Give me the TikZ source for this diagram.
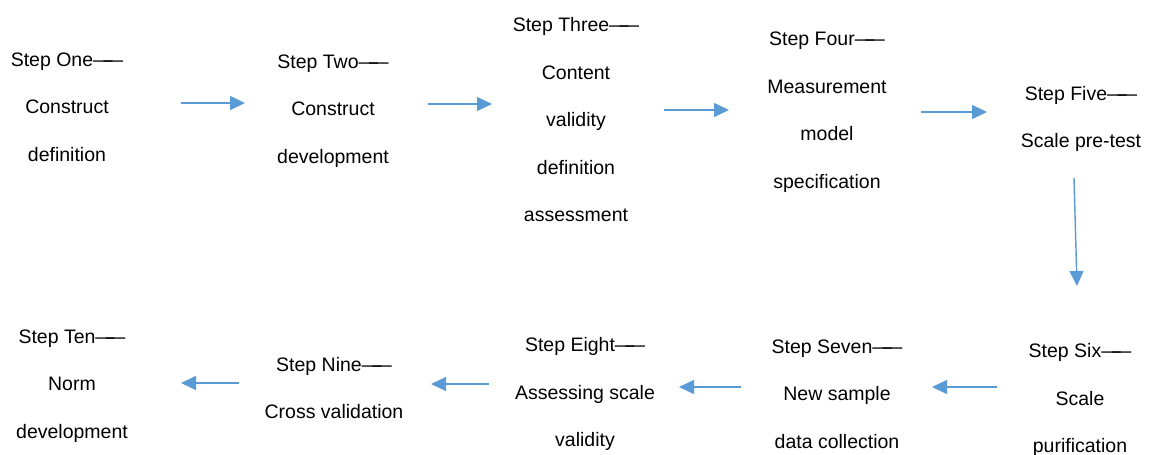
\documentclass[tikz,border=0pt]{standalone}
\usepackage{fontspec}
\setmainfont{Liberation Sans}
\usetikzlibrary{arrows.meta}
\definecolor{flowblue}{RGB}{91,155,213}
\newcommand{\longdash}{—\kern-0.46em—}
\tikzset{
  stepbox/.style={align=center, inner sep=0pt, font=\fontsize{19.5}{47.5}\selectfont},
  flowarrow/.style={draw=flowblue, line width=1.4pt,
    -{Triangle[length=15pt,width=14pt,fill=flowblue]}},
}
\begin{document}
\begin{tikzpicture}[x=1pt,y=-1pt]
\useasboundingbox (0,0) rectangle (1152,455);

% upper row, left to right
\node[stepbox] (s1) at (67,107)   {Step One\longdash\\Construct\\definition};
\node[stepbox] (s2) at (333,111)  {Step Two\longdash\\Construct\\development};
\node[stepbox] (s3) at (576,120)  {Step Three\longdash\\Content\\validity\\definition\\assessment};
\node[stepbox] (s4) at (827,112)  {Step Four\longdash\\Measurement\\model\\specification};
\node[stepbox] (s5) at (1081,119) {Step Five\longdash\\Scale pre-test};

% lower row, right to left
\node[stepbox] (s6) at (1080,400) {Step Six\longdash\\Scale\\purification};
\node[stepbox] (s7) at (837,394)  {Step Seven\longdash\\New sample\\data collection};
\node[stepbox] (s8) at (585,394)  {Step Eight\longdash\\Assessing scale\\validity};
\node[stepbox] (s9) at (334,388)  {Step Nine\longdash\\Cross validation};
\node[stepbox] (s10) at (72,386)  {Step Ten\longdash\\Norm\\development};

% arrow end points between the steps
\coordinate (a12) at (181,103);  \coordinate (b12) at (245,103);
\coordinate (a23) at (428,104);  \coordinate (b23) at (492,104);
\coordinate (a34) at (664,110);  \coordinate (b34) at (729,110);
\coordinate (a45) at (921,112);  \coordinate (b45) at (987,112);
\coordinate (a56) at (1074,178); \coordinate (b56) at (1077,286);
\coordinate (a67) at (997,387);  \coordinate (b67) at (932,387);
\coordinate (a78) at (741,387);  \coordinate (b78) at (679,387);
\coordinate (a89) at (489,384);  \coordinate (b89) at (431,384);
\coordinate (a910) at (239,383); \coordinate (b910) at (181,383);

\draw[flowarrow] (a12) -- (b12);
\draw[flowarrow] (a23) -- (b23);
\draw[flowarrow] (a34) -- (b34);
\draw[flowarrow] (a45) -- (b45);
\draw[flowarrow] (a56) -- (b56);
\draw[flowarrow] (a67) -- (b67);
\draw[flowarrow] (a78) -- (b78);
\draw[flowarrow] (a89) -- (b89);
\draw[flowarrow] (a910) -- (b910);
\end{tikzpicture}
\end{document}
